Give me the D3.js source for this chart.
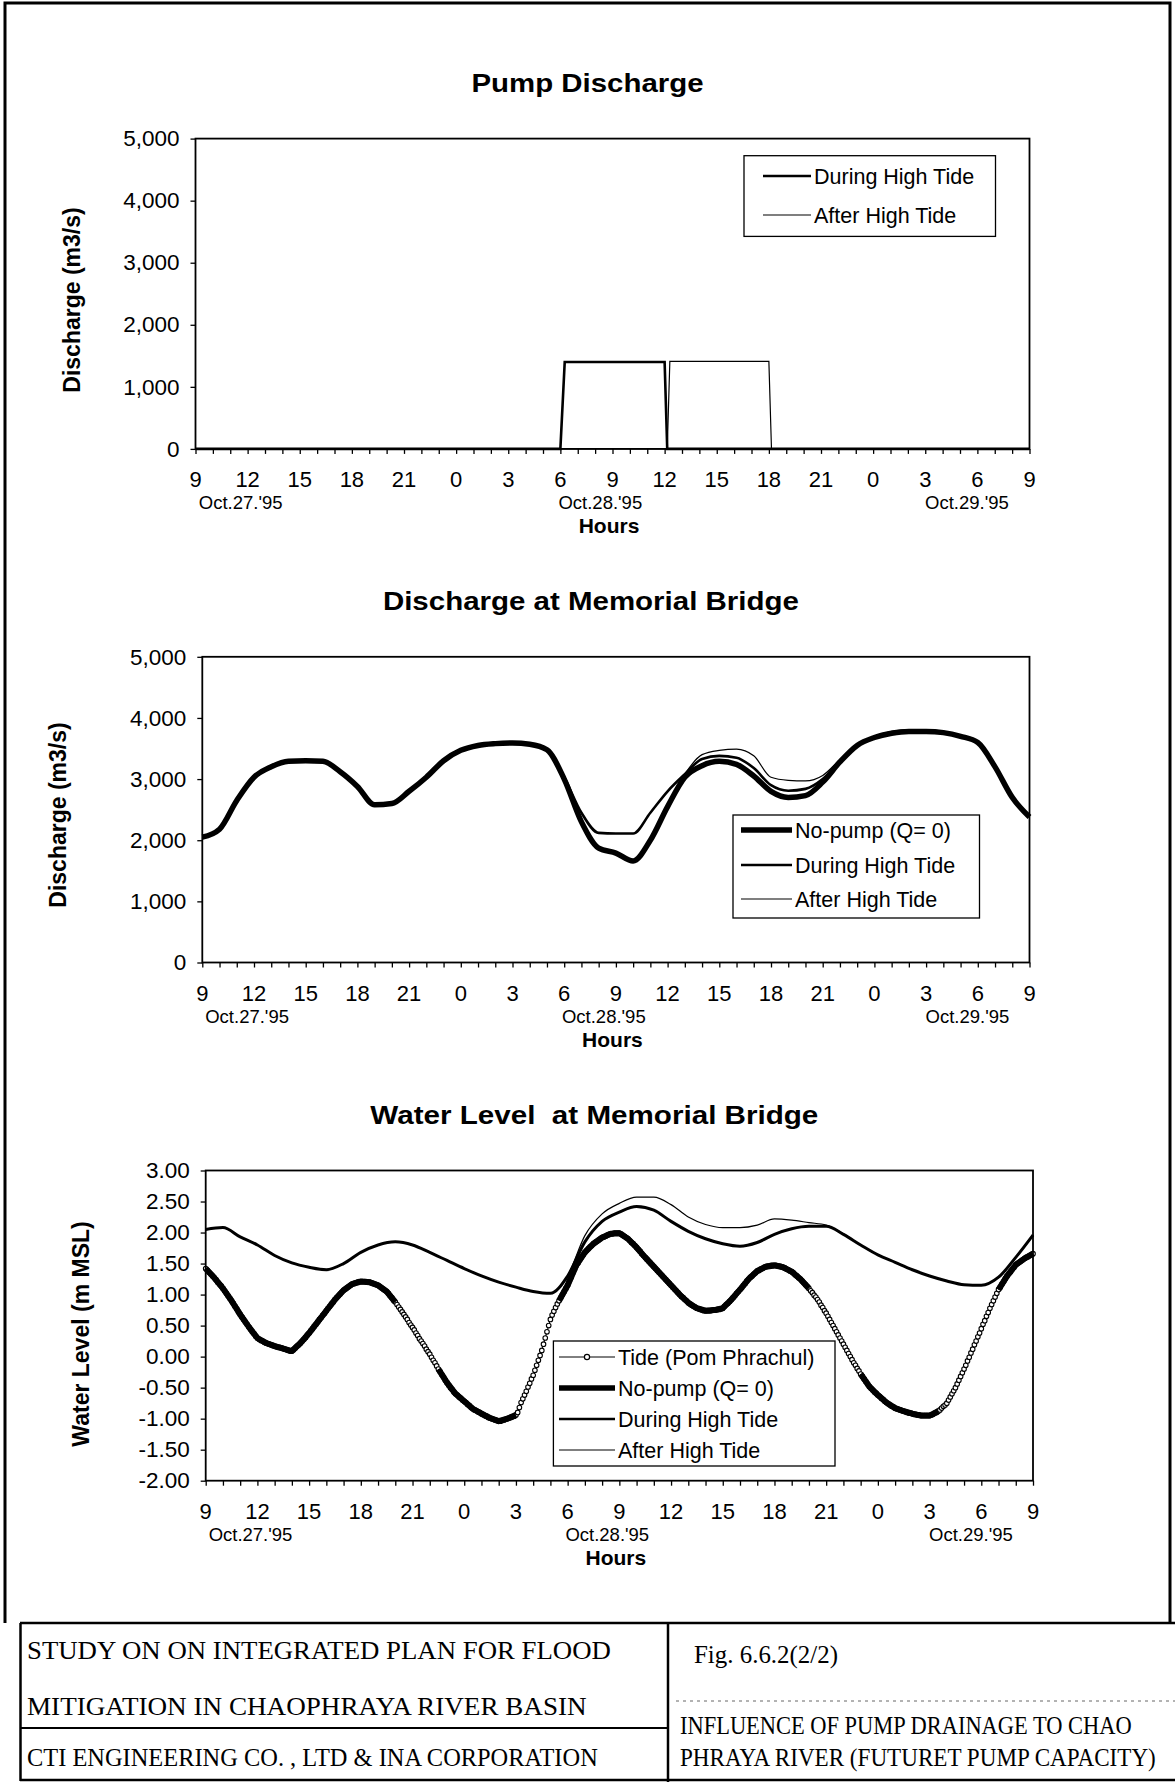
<!DOCTYPE html>
<html><head><meta charset="utf-8">
<script src="https://cdn.jsdelivr.net/npm/d3@7"></script>
<style>body{margin:0;background:#fff}svg{display:block}</style>
</head><body>
<script>
// ---------------- DATA ----------------
const hourLabels = [9,12,15,18,21,0,3,6,9,12,15,18,21,0,3,6,9];
const dateLabels = ["Oct.27.'95","Oct.28.'95","Oct.29.'95"];
const dateLabelHours = [2.6, 23.3, 44.4];
const dischargeTicks = [0,1000,2000,3000,4000,5000];
const levelTicks = [-2,-1.5,-1,-0.5,0,0.5,1,1.5,2,2.5,3];

// Pump discharge (step data: hours since Oct.27 9:00, m3/s)
const pumpDuringHours = [0,21,21.25,27,27.15,48];
const pumpDuringQ     = [0,0,1400,1400,0,0];
const pumpAfterHours  = [0,27.15,27.3,33,33.15,48];
const pumpAfterQ      = [0,0,1410,1410,0,0];

// Discharge at Memorial Bridge, hourly (h = 0..48)
const dischNoPump = [2050,2180,2650,3030,3200,3290,3300,3290,3120,2880,
  2580,2600,2800,3030,3300,3470,3550,3580,3590,3570,
  3480,3000,2300,1870,1790,1660,2000,2550,3030,3220,
  3290,3240,3050,2800,2700,2730,2950,3280,3550,3680,
  3750,3780,3780,3760,3700,3600,3200,2700,2380];
const dischDuring = [2050,2180,2650,3030,3200,3290,3300,3290,3120,2880,
  2580,2600,2800,3030,3300,3470,3550,3580,3590,3570,
  3480,3030,2450,2120,2110,2110,2450,2800,3080,3330,
  3380,3350,3180,2900,2810,2840,3000,3290,3560,3690,
  3760,3790,3790,3770,3710,3610,3210,2710,2390];
const dischAfter = [2050,2180,2650,3030,3200,3290,3300,3290,3120,2880,
  2580,2600,2800,3030,3300,3470,3550,3580,3590,3570,
  3480,3000,2300,1870,1790,1660,2000,2550,3080,3400,
  3470,3490,3380,3030,2980,2970,3060,3320,3570,3700,
  3780,3810,3810,3780,3710,3610,3210,2710,2390];

// Water level: tide at Pom Phrachul, every 0.1 h
const tideLevel = [
 1.42,1.39,1.36,1.33,1.30,1.27,1.24,1.20,1.17,1.14,
 1.10,1.06,1.02,0.98,0.94,0.90,0.86,0.81,0.77,0.72,
 0.68,0.64,0.60,0.56,0.52,0.48,0.44,0.40,0.37,0.33,
 0.30,0.28,0.26,0.25,0.23,0.22,0.21,0.20,0.19,0.18,
 0.17,0.16,0.15,0.15,0.14,0.13,0.12,0.11,0.10,0.09,
 0.09,0.11,0.14,0.17,0.19,0.22,0.25,0.28,0.31,0.35,
 0.38,0.42,0.45,0.49,0.52,0.56,0.60,0.63,0.67,0.70,
 0.74,0.78,0.81,0.85,0.88,0.92,0.95,0.98,1.01,1.04,
 1.07,1.09,1.11,1.13,1.15,1.17,1.18,1.19,1.20,1.21,
 1.21,1.21,1.21,1.21,1.20,1.20,1.19,1.18,1.17,1.16,
 1.15,1.13,1.11,1.09,1.07,1.05,1.02,0.98,0.95,0.91,
 0.88,0.84,0.80,0.76,0.72,0.68,0.64,0.60,0.55,0.51,
 0.47,0.43,0.38,0.34,0.29,0.25,0.21,0.17,0.12,0.08,
 0.04,-0.01,-0.06,-0.10,-0.15,-0.20,-0.24,-0.29,-0.33,-0.38,
 -0.42,-0.46,-0.50,-0.53,-0.57,-0.60,-0.62,-0.65,-0.67,-0.70,
 -0.72,-0.74,-0.77,-0.79,-0.82,-0.84,-0.86,-0.87,-0.89,-0.90,
 -0.92,-0.93,-0.95,-0.96,-0.98,-0.99,-1.00,-1.01,-1.02,-1.03,
 -1.04,-1.04,-1.03,-1.02,-1.01,-1.00,-0.99,-0.98,-0.97,-0.96,
 -0.94,-0.90,-0.82,-0.74,-0.68,-0.62,-0.56,-0.49,-0.43,-0.36,
 -0.30,-0.22,-0.14,-0.06,0.02,0.10,0.20,0.30,0.40,0.50,
 0.60,0.67,0.73,0.79,0.85,0.90,0.95,1.00,1.05,1.10,
 1.15,1.22,1.28,1.35,1.41,1.47,1.51,1.56,1.60,1.64,
 1.68,1.71,1.74,1.77,1.79,1.82,1.84,1.86,1.88,1.90,
 1.92,1.93,1.94,1.96,1.97,1.98,1.98,1.99,1.99,1.99,
 1.99,1.98,1.96,1.94,1.92,1.90,1.87,1.84,1.82,1.79,
 1.76,1.73,1.70,1.66,1.63,1.60,1.57,1.54,1.51,1.48,
 1.45,1.42,1.39,1.36,1.33,1.30,1.27,1.24,1.21,1.18,
 1.15,1.12,1.09,1.06,1.03,1.00,0.97,0.95,0.92,0.90,
 0.87,0.85,0.83,0.81,0.80,0.78,0.77,0.76,0.75,0.74,
 0.74,0.74,0.74,0.74,0.75,0.75,0.75,0.76,0.76,0.77,
 0.78,0.81,0.84,0.86,0.89,0.92,0.95,0.98,1.02,1.05,
 1.08,1.11,1.15,1.18,1.22,1.25,1.28,1.30,1.33,1.35,
 1.38,1.39,1.41,1.42,1.44,1.45,1.46,1.46,1.47,1.47,
 1.47,1.47,1.46,1.46,1.45,1.44,1.43,1.41,1.40,1.38,
 1.37,1.35,1.32,1.30,1.27,1.25,1.22,1.19,1.16,1.13,
 1.10,1.06,1.03,0.99,0.96,0.92,0.88,0.83,0.79,0.74,
 0.70,0.65,0.60,0.55,0.50,0.45,0.40,0.35,0.30,0.25,
 0.20,0.15,0.10,0.05,0.00,-0.05,-0.10,-0.14,-0.19,-0.23,
 -0.28,-0.32,-0.36,-0.40,-0.44,-0.48,-0.51,-0.54,-0.57,-0.59,
 -0.62,-0.64,-0.67,-0.69,-0.72,-0.74,-0.76,-0.78,-0.80,-0.81,
 -0.83,-0.84,-0.85,-0.86,-0.87,-0.88,-0.89,-0.90,-0.91,-0.91,
 -0.92,-0.93,-0.93,-0.94,-0.94,-0.95,-0.95,-0.95,-0.95,-0.95,
 -0.95,-0.94,-0.93,-0.91,-0.90,-0.88,-0.86,-0.83,-0.80,-0.78,
 -0.75,-0.70,-0.65,-0.60,-0.55,-0.50,-0.44,-0.38,-0.32,-0.26,
 -0.20,-0.14,-0.07,-0.01,0.06,0.12,0.19,0.25,0.32,0.38,
 0.45,0.52,0.58,0.65,0.71,0.78,0.84,0.90,0.96,1.02,
 1.08,1.12,1.17,1.21,1.26,1.30,1.34,1.37,1.41,1.44,
 1.48,1.50,1.52,1.54,1.56,1.58,1.60,1.61,1.63,1.64,
 1.66];
const tideStep = 0.1;

// Water level, no-pump, every 0.5 h (null = not drawn)
const levelNoPump = [
 1.42,1.27,1.10,0.90,0.68,0.48,0.30,0.22,0.17,0.13,
 0.09,0.22,0.38,0.56,0.74,0.92,1.07,1.17,1.21,1.20,
 1.15,1.05,0.88,null,null,null,null,-0.20,-0.42,-0.60,
 -0.72,-0.84,-0.92,-0.99,-1.04,-1.00,-0.94,null,null,null,
 null,0.90,1.15,1.47,1.68,1.82,1.92,1.98,1.99,1.90,
 1.76,1.60,1.45,1.30,1.15,1.00,0.87,0.78,0.74,0.75,
 0.78,0.92,1.08,1.25,1.38,1.45,1.47,1.44,1.37,1.25,
 1.10,null,null,null,null,null,-0.28,-0.48,-0.62,-0.74,
 -0.83,-0.88,-0.92,-0.95,-0.95,-0.88,null,null,null,null,
 null,null,1.08,1.30,1.48,1.58,1.66];
const noPumpStep = 0.5;

// Water level, hourly
const levelDuring = [2.05,2.08,1.93,1.80,1.63,1.51,1.44,1.40,1.50,1.68,
  1.80,1.85,1.80,1.68,1.55,1.42,1.30,1.20,1.12,1.05,
  1.02,1.30,1.85,2.18,2.33,2.42,2.36,2.18,2.02,1.90,
  1.82,1.78,1.84,1.97,2.06,2.10,2.10,1.97,1.80,1.64,
  1.52,1.40,1.30,1.22,1.16,1.15,1.28,1.60,1.96];
const levelAfter = [2.05,2.08,1.93,1.80,1.63,1.51,1.44,1.40,1.50,1.68,
  1.80,1.85,1.80,1.68,1.55,1.42,1.30,1.20,1.12,1.05,
  1.02,1.30,1.95,2.30,2.47,2.57,2.57,2.45,2.25,2.13,
  2.08,2.08,2.12,2.22,2.20,2.16,2.12,1.98,1.80,1.64,
  1.52,1.40,1.30,1.22,1.16,1.15,1.28,1.60,1.96];

// ---------------- DRAWING ----------------
const W = 1175, H = 1782;
const SANS = "'Liberation Sans', Arial, Helvetica, sans-serif";
const SERIF = "'Liberation Serif', 'Times New Roman', serif";
const svg = d3.select("body").append("svg").attr("width", W).attr("height", H);
svg.append("rect").attr("width", W).attr("height", H).attr("fill", "#fff");

const W_THICK = 5.5, W_MED = 2.6, W_THIN = 1.2;

function chart(o) {
  const x = d3.scaleLinear().domain([0, 48]).range([o.left, o.right]);
  const y = d3.scaleLinear().domain(o.yDomain).range([o.bottom, o.top]);
  const g = svg.append("g");

  g.append("text").attr("x", (o.left + o.right) / 2 - 25).attr("y", o.titleY)
    .attr("text-anchor", "middle").attr("font-family", SANS).attr("font-weight", "bold")
    .attr("font-size", 25).attr("textLength", o.titleW).attr("lengthAdjust", "spacingAndGlyphs")
    .style("white-space", "pre")
    .text(o.title);

  // x ticks every hour
  const xAxis = d3.axisBottom(x).tickValues(d3.range(0, 49, 1)).tickSize(5).tickFormat("");
  const xa = g.append("g").attr("transform", `translate(0,${o.bottom})`).call(xAxis);
  xa.select(".domain").remove();
  xa.selectAll("line").attr("stroke", "#000").attr("stroke-width", 1.3);

  g.selectAll(null).data(hourLabels).join("text")
    .attr("x", (d, i) => x(i * 3)).attr("y", o.bottom + 38)
    .attr("text-anchor", "middle").attr("font-family", SANS).attr("font-size", 22)
    .text(d => d);
  g.selectAll(null).data(dateLabels).join("text")
    .attr("x", (d, i) => x(dateLabelHours[i])).attr("y", o.bottom + 60)
    .attr("text-anchor", "middle").attr("font-family", SANS).attr("font-size", 18.5)
    .text(d => d);
  g.append("text").attr("x", x(23.8)).attr("y", o.bottom + 84)
    .attr("text-anchor", "middle").attr("font-family", SANS).attr("font-weight", "bold")
    .attr("font-size", 21).text("Hours");

  // y axis
  const yAxis = d3.axisLeft(y).tickValues(o.yTicks).tickSize(5).tickPadding(11).tickFormat(o.yFmt);
  const ya = g.append("g").attr("transform", `translate(${o.left},0)`).call(yAxis);
  ya.select(".domain").remove();
  ya.selectAll("line").attr("stroke", "#000").attr("stroke-width", 1.3);
  ya.selectAll("text").attr("font-family", SANS).attr("font-size", 22.5).attr("fill", "#000");

  g.append("text").attr("transform", `translate(${o.yTitleX},${o.yTitleY}) rotate(-90)`)
    .attr("text-anchor", "middle").attr("font-family", SANS).attr("font-weight", "bold")
    .attr("font-size", 23).text(o.yTitle);

  const plot = g.append("g");
  o.draw(plot, x, y);

  g.append("rect").attr("x", o.left).attr("y", o.top)
    .attr("width", o.right - o.left).attr("height", o.bottom - o.top)
    .attr("fill", "none").attr("stroke", "#000").attr("stroke-width", 1.8);
  return { x, y, g };
}

function legend(g, box, items) {
  g.append("rect").attr("x", box.x0).attr("y", box.y0)
    .attr("width", box.x1 - box.x0).attr("height", box.y1 - box.y0)
    .attr("fill", "#fff").attr("stroke", "#000").attr("stroke-width", 1.3);
  items.forEach((it, i) => {
    const yy = box.rows[i];
    g.append("line").attr("x1", box.sx0).attr("x2", box.sx1).attr("y1", yy).attr("y2", yy)
      .attr("stroke", "#000").attr("stroke-width", it.w);
    if (it.marker) {
      g.append("circle").attr("cx", (box.sx0 + box.sx1) / 2).attr("cy", yy).attr("r", 2.6)
        .attr("fill", "#fff").attr("stroke", "#000").attr("stroke-width", 1.2);
    }
    g.append("text").attr("x", box.tx).attr("y", yy).attr("dy", "0.36em")
      .attr("font-family", SANS).attr("font-size", 21.5).text(it.label);
  });
}

const kFmt = d3.format(",");

// ---- Chart 1: Pump Discharge ----
const c1 = chart({
  left: 195.5, right: 1029.5, top: 138.6, bottom: 448.9,
  yDomain: [0, 5000], yTicks: dischargeTicks, yFmt: kFmt,
  title: "Pump Discharge", titleY: 92, titleW: 232,
  yTitle: "Discharge (m3/s)", yTitleX: 80, yTitleY: 300,
  draw: (p, x, y) => {
    p.append("path").datum(pumpAfterQ)
      .attr("d", d3.line().x((d, i) => x(pumpAfterHours[i])).y(d => y(d)))
      .attr("fill", "none").attr("stroke", "#000").attr("stroke-width", W_THIN);
    p.append("path").datum(pumpDuringQ)
      .attr("d", d3.line().x((d, i) => x(pumpDuringHours[i])).y(d => y(d)))
      .attr("fill", "none").attr("stroke", "#000").attr("stroke-width", W_MED);
  }
});
legend(c1.g, { x0: 744, x1: 995.5, y0: 155.7, y1: 236.4, rows: [176, 215], sx0: 763, sx1: 811, tx: 814 },
  [{ label: "During High Tide", w: W_MED }, { label: "After High Tide", w: W_THIN }]);

// ---- Chart 2: Discharge at Memorial Bridge ----
const c2 = chart({
  left: 202.3, right: 1029.5, top: 656.8, bottom: 962.5,
  yDomain: [0, 5000], yTicks: dischargeTicks, yFmt: kFmt,
  title: "Discharge at Memorial Bridge", titleY: 610, titleW: 416,
  yTitle: "Discharge (m3/s)", yTitleX: 66, yTitleY: 815,
  draw: (p, x, y) => {
    const ln = d3.line().x((d, i) => x(i)).y(d => y(d)).curve(d3.curveMonotoneX);
    p.append("path").datum(dischNoPump).attr("d", ln).attr("fill", "none")
      .attr("stroke", "#000").attr("stroke-width", W_THICK).attr("stroke-linejoin", "round");
    p.append("path").datum(dischDuring).attr("d", ln).attr("fill", "none")
      .attr("stroke", "#000").attr("stroke-width", W_MED);
    p.append("path").datum(dischAfter).attr("d", ln).attr("fill", "none")
      .attr("stroke", "#000").attr("stroke-width", W_THIN);
  }
});
legend(c2.g, { x0: 733, x1: 979.5, y0: 815, y1: 918, rows: [830, 865, 899], sx0: 741, sx1: 792, tx: 795 },
  [{ label: "No-pump (Q= 0)", w: W_THICK }, { label: "During High Tide", w: W_MED }, { label: "After High Tide", w: W_THIN }]);

// ---- Chart 3: Water Level at Memorial Bridge ----
const c3 = chart({
  left: 205.7, right: 1033, top: 1170.5, bottom: 1480.7,
  yDomain: [-2, 3], yTicks: levelTicks, yFmt: d => d.toFixed(2),
  title: "Water Level  at Memorial Bridge", titleY: 1124, titleW: 448,
  yTitle: "Water Level (m MSL)", yTitleX: 89, yTitleY: 1334,
  draw: (p, x, y) => {
    p.append("path").datum(tideLevel)
      .attr("d", d3.line().x((d, i) => x(i * tideStep)).y(d => y(d)))
      .attr("fill", "none").attr("stroke", "#000").attr("stroke-width", 1);
    p.selectAll(null).data(tideLevel).join("circle")
      .attr("cx", (d, i) => x(i * tideStep)).attr("cy", d => y(d)).attr("r", 2.3)
      .attr("fill", "#fff").attr("stroke", "#000").attr("stroke-width", 1.1);
    p.append("path").datum(levelNoPump)
      .attr("d", d3.line().defined(d => d != null).x((d, i) => x(i * noPumpStep)).y(d => y(d)))
      .attr("fill", "none").attr("stroke", "#000").attr("stroke-width", 6).attr("stroke-linejoin", "round");
    const ln = d3.line().x((d, i) => x(i)).y(d => y(d)).curve(d3.curveMonotoneX);
    p.append("path").datum(levelDuring).attr("d", ln).attr("fill", "none")
      .attr("stroke", "#000").attr("stroke-width", W_MED + 0.4);
    p.append("path").datum(levelAfter).attr("d", ln).attr("fill", "none")
      .attr("stroke", "#000").attr("stroke-width", W_THIN);
  }
});
legend(c3.g, { x0: 553.4, x1: 835, y0: 1341, y1: 1466, rows: [1357, 1388, 1419, 1450], sx0: 559, sx1: 615, tx: 618 },
  [{ label: "Tide (Pom Phrachul)", w: 1, marker: true }, { label: "No-pump (Q= 0)", w: W_THICK },
   { label: "During High Tide", w: W_MED }, { label: "After High Tide", w: W_THIN }]);

// ---------------- PAGE FRAME & TITLE BLOCK ----------------
const frame = svg.append("g").attr("fill", "none").attr("stroke", "#000");
frame.append("path").attr("d", "M5,1623 V3 H1170 V1623").attr("stroke-width", 3);
frame.append("line").attr("x1", 20).attr("x2", 1175).attr("y1", 1623).attr("y2", 1623).attr("stroke-width", 2.5);
frame.append("line").attr("x1", 20.5).attr("x2", 20.5).attr("y1", 1623).attr("y2", 1781).attr("stroke-width", 2.5);
frame.append("line").attr("x1", 668).attr("x2", 668).attr("y1", 1623).attr("y2", 1782).attr("stroke-width", 2.5);
frame.append("line").attr("x1", 20).attr("x2", 668).attr("y1", 1728).attr("y2", 1728).attr("stroke-width", 2.2);
frame.append("line").attr("x1", 20).attr("x2", 1175).attr("y1", 1780).attr("y2", 1780).attr("stroke-width", 2.5);
frame.append("line").attr("x1", 676).attr("x2", 1175).attr("y1", 1701).attr("y2", 1701)
  .attr("stroke-width", 1).attr("stroke", "#666").attr("stroke-dasharray", "3,4");

const blockTexts = [
  { t: "STUDY ON ON INTEGRATED PLAN FOR FLOOD", x: 27, y: 1659, w: 584 },
  { t: "MITIGATION IN CHAOPHRAYA RIVER BASIN", x: 27, y: 1715, w: 560 },
  { t: "CTI ENGINEERING CO. , LTD & INA CORPORATION", x: 27, y: 1766, w: 571 },
  { t: "Fig. 6.6.2(2/2)", x: 694, y: 1663, w: 144 },
  { t: "INFLUENCE OF PUMP DRAINAGE TO CHAO", x: 680, y: 1734, w: 452 },
  { t: "PHRAYA RIVER (FUTURET PUMP CAPACITY)", x: 680, y: 1766, w: 476 }
];
// each line is drawn at its natural width, then squeezed horizontally to the measured width
const bt = svg.append("g").selectAll("g").data(blockTexts).join("g");
bt.append("text").attr("x", 0).attr("y", 0).attr("font-family", SERIF).attr("font-size", 25)
  .text(d => d.t);
bt.attr("transform", function (d) {
  const L = this.querySelector("text").getComputedTextLength() || d.w;
  return `translate(${d.x},${d.y}) scale(${d.w / L},1)`;
});
</script>
</body></html>
